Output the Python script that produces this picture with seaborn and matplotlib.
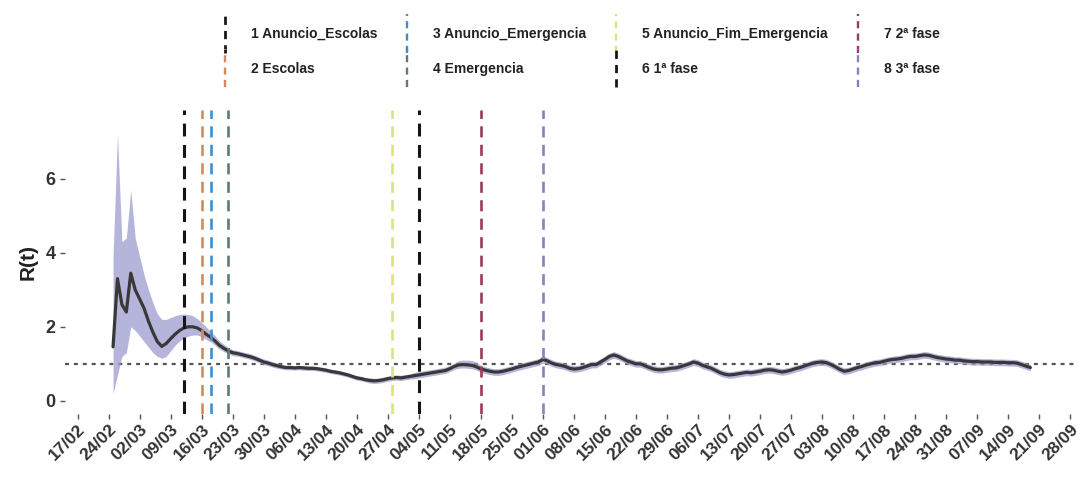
import matplotlib
matplotlib.use("Agg")
import matplotlib.pyplot as plt
from matplotlib.legend_handler import HandlerBase
from matplotlib.lines import Line2D
import pandas as pd
import seaborn as sns

# Daily R(t) estimate with its credible interval, from 25/02/2020
first_day = "2020-02-25"
r_mean = [
    1.46, 3.30, 2.60, 2.40, 3.45, 3.00, 2.75, 2.50, 2.15, 1.85,
    1.60, 1.47, 1.55, 1.68, 1.80, 1.90, 1.97, 2.00, 2.00, 1.97,
    1.90, 1.80, 1.72, 1.62, 1.50, 1.42, 1.35, 1.30,
    1.28, 1.25, 1.22, 1.19, 1.15, 1.10, 1.05, 1.02, 0.98, 0.95,
    0.92, 0.90, 0.90, 0.89, 0.90, 0.89, 0.88, 0.88, 0.87, 0.85,
    0.83, 0.80, 0.78, 0.76, 0.73, 0.70, 0.66, 0.62, 0.60, 0.57,
    0.55, 0.54, 0.55, 0.57, 0.60, 0.62, 0.63, 0.62, 0.64, 0.66,
    0.68, 0.70, 0.72, 0.74, 0.76, 0.78, 0.80, 0.82, 0.87, 0.93,
    0.97, 0.98, 0.97, 0.96, 0.92, 0.86, 0.83, 0.80, 0.78, 0.78,
    0.80, 0.83, 0.86, 0.90, 0.93, 0.96, 0.99, 1.02, 1.05, 1.12,
    1.08, 1.02, 0.98, 0.96, 0.93, 0.88, 0.86, 0.87, 0.90, 0.94,
    0.98, 0.98, 1.05, 1.12, 1.20, 1.24, 1.20, 1.14, 1.08, 1.04,
    1.00, 1.00, 0.95, 0.90, 0.86, 0.84, 0.84, 0.86, 0.88, 0.89,
    0.92, 0.96, 1.00, 1.05, 1.02, 0.96, 0.92, 0.88, 0.82, 0.76,
    0.72, 0.70, 0.71, 0.73, 0.75, 0.77, 0.76, 0.78, 0.80, 0.83,
    0.84, 0.83, 0.80, 0.78, 0.80, 0.83, 0.87, 0.90, 0.94, 0.98,
    1.02, 1.04, 1.05, 1.03, 0.98, 0.92, 0.85, 0.80, 0.82, 0.86,
    0.90, 0.93, 0.97, 1.00, 1.03, 1.04, 1.07, 1.10, 1.12, 1.13,
    1.15, 1.18, 1.20, 1.20, 1.22, 1.24, 1.23, 1.20, 1.17, 1.15,
    1.13, 1.12, 1.10, 1.10, 1.08, 1.07, 1.06, 1.06, 1.05, 1.05,
    1.05, 1.04, 1.04, 1.04, 1.03, 1.03, 1.02, 0.98, 0.94, 0.90,
]
r_lower = [
    0.20, 0.70, 1.20, 1.30, 2.00, 1.90, 1.75, 1.60, 1.45, 1.30,
    1.20, 1.15, 1.20, 1.35, 1.50, 1.62, 1.70, 1.75, 1.78, 1.78,
    1.73, 1.66, 1.60, 1.50, 1.40, 1.33, 1.27, 1.22,
    1.21, 1.18, 1.15, 1.12, 1.08, 1.03, 0.98, 0.95, 0.91, 0.88,
    0.86, 0.84, 0.84, 0.83, 0.84, 0.83, 0.82, 0.82, 0.81, 0.79,
    0.77, 0.74, 0.72, 0.70, 0.67, 0.64, 0.60, 0.56, 0.54, 0.51,
    0.48, 0.47, 0.48, 0.50, 0.53, 0.55, 0.56, 0.55, 0.57, 0.59,
    0.60, 0.62, 0.64, 0.66, 0.68, 0.70, 0.72, 0.74, 0.79, 0.85,
    0.88, 0.89, 0.88, 0.87, 0.83, 0.77, 0.74, 0.71, 0.69, 0.69,
    0.71, 0.74, 0.77, 0.81, 0.84, 0.87, 0.90, 0.93, 0.96, 1.02,
    0.99, 0.93, 0.89, 0.87, 0.84, 0.79, 0.77, 0.78, 0.81, 0.85,
    0.89, 0.89, 0.96, 1.03, 1.11, 1.15, 1.11, 1.05, 0.99, 0.95,
    0.91, 0.91, 0.86, 0.81, 0.77, 0.75, 0.75, 0.77, 0.79, 0.80,
    0.83, 0.87, 0.91, 0.96, 0.93, 0.87, 0.83, 0.79, 0.73, 0.67,
    0.63, 0.61, 0.62, 0.64, 0.66, 0.68, 0.67, 0.69, 0.71, 0.74,
    0.75, 0.74, 0.71, 0.69, 0.71, 0.74, 0.78, 0.81, 0.85, 0.89,
    0.93, 0.95, 0.96, 0.94, 0.89, 0.83, 0.76, 0.71, 0.73, 0.77,
    0.81, 0.84, 0.88, 0.91, 0.94, 0.95, 0.98, 1.01, 1.03, 1.04,
    1.06, 1.09, 1.11, 1.11, 1.13, 1.15, 1.14, 1.11, 1.08, 1.06,
    1.04, 1.03, 1.01, 1.01, 0.99, 0.98, 0.97, 0.97, 0.96, 0.96,
    0.96, 0.95, 0.95, 0.95, 0.94, 0.94, 0.93, 0.89, 0.85, 0.81,
]
r_upper = [
    3.90, 7.20, 4.30, 4.40, 5.70, 4.40, 3.90, 3.40, 3.00, 2.65,
    2.35, 2.20, 2.20, 2.25, 2.30, 2.33, 2.35, 2.33, 2.30, 2.22,
    2.12, 2.00, 1.88, 1.76, 1.62, 1.53, 1.44, 1.38,
    1.36, 1.33, 1.30, 1.27, 1.23, 1.18, 1.13, 1.10, 1.06, 1.03,
    0.98, 0.96, 0.96, 0.95, 0.96, 0.95, 0.94, 0.94, 0.93, 0.91,
    0.89, 0.86, 0.84, 0.82, 0.79, 0.76, 0.72, 0.68, 0.66, 0.63,
    0.62, 0.61, 0.62, 0.64, 0.67, 0.69, 0.70, 0.69, 0.71, 0.73,
    0.77, 0.79, 0.81, 0.83, 0.85, 0.87, 0.89, 0.91, 0.96, 1.02,
    1.09, 1.10, 1.10, 1.09, 1.04, 0.96, 0.92, 0.89, 0.87, 0.87,
    0.89, 0.92, 0.95, 0.99, 1.02, 1.05, 1.08, 1.11, 1.14, 1.22,
    1.17, 1.11, 1.07, 1.05, 1.02, 0.97, 0.95, 0.96, 0.99, 1.03,
    1.07, 1.07, 1.14, 1.21, 1.29, 1.33, 1.29, 1.23, 1.17, 1.13,
    1.09, 1.09, 1.04, 0.99, 0.95, 0.93, 0.93, 0.95, 0.97, 0.98,
    1.01, 1.05, 1.09, 1.14, 1.11, 1.05, 1.01, 0.97, 0.91, 0.85,
    0.81, 0.79, 0.80, 0.82, 0.84, 0.86, 0.85, 0.87, 0.89, 0.92,
    0.93, 0.92, 0.89, 0.87, 0.89, 0.92, 0.96, 0.99, 1.03, 1.07,
    1.11, 1.13, 1.14, 1.12, 1.07, 1.01, 0.94, 0.89, 0.91, 0.95,
    0.99, 1.02, 1.06, 1.09, 1.12, 1.13, 1.16, 1.19, 1.21, 1.22,
    1.24, 1.27, 1.29, 1.29, 1.31, 1.33, 1.32, 1.29, 1.26, 1.24,
    1.22, 1.21, 1.19, 1.19, 1.17, 1.16, 1.15, 1.15, 1.14, 1.14,
    1.14, 1.13, 1.13, 1.13, 1.12, 1.12, 1.11, 1.07, 1.03, 0.99,
]

# Policy events marked with vertical lines
event_labels = [
    "1 Anuncio_Escolas", "2 Escolas", "3 Anuncio_Emergencia", "4 Emergencia",
    "5 Anuncio_Fim_Emergencia", "6 1ª fase", "7 2ª fase", "8 3ª fase",
]
event_dates = [
    "2020-03-12", "2020-03-16", "2020-03-18", "2020-03-22",
    "2020-04-28", "2020-05-04", "2020-05-18", "2020-06-01",
]
event_colors = [
    "#151515", "#d48a5c", "#3f8fce", "#5c7d76",
    "#dde27e", "#151515", "#9c3a5a", "#8a82b8",
]

# Weekly axis ticks
tick_start = "2020-02-17"
tick_end = "2020-09-28"
threshold = 1.0

dates = pd.date_range(first_day, periods=len(r_mean), freq="D")
df = pd.DataFrame({"data": dates, "R": r_mean, "lo": r_lower, "hi": r_upper})

sns.set_style("white")
plt.rcParams["font.family"] = ["Liberation Sans", "DejaVu Sans"]

fig = plt.figure(figsize=(10.79, 4.84), dpi=100)
ax = fig.add_axes([0.060, 0.145, 0.936, 0.628])

ax.fill_between(df["data"], df["lo"], df["hi"], color="#9d9dcf", alpha=0.75,
                linewidth=0, zorder=2)
sns.lineplot(data=df, x="data", y="R", ax=ax, color="#383838", linewidth=2.3,
             zorder=3)

ax.axhline(threshold, color="#555555", linewidth=1.6, linestyle=(0, (1.8, 2.2)),
           zorder=1)

handles = []
for lab, d, c in zip(event_labels, event_dates, event_colors):
    lw = 2.2 if c == "#151515" else 1.9
    h = ax.axvline(pd.Timestamp(d), color=c, linewidth=lw,
                   linestyle=(0, (4.2, 2.8)), zorder=4, label=lab)
    handles.append(h)


class VerticalKey(HandlerBase):
    """Legend key drawn as a short vertical dashed segment."""

    def create_artists(self, legend, orig_handle, xdescent, ydescent, width,
                       height, fontsize, trans):
        x = width / 2 - xdescent
        seg = Line2D([x, x], [-ydescent - 1.5 * height, -ydescent + 2.5 * height],
                     color=orig_handle.get_color(),
                     linewidth=orig_handle.get_linewidth() * 0.9,
                     linestyle=(0, (3.0, 2.2)))
        seg.set_transform(trans)
        return [seg]


leg = fig.legend(handles=handles, labels=event_labels, ncol=4,
                 loc="upper left", bbox_to_anchor=(0.1905, 0.970),
                 frameon=False, handler_map={Line2D: VerticalKey()},
                 handlelength=1.0, handleheight=0.7, handletextpad=1.37,
                 columnspacing=1.65, labelspacing=1.5,
                 prop={"size": 10, "weight": "bold"})
for t in leg.get_texts():
    t.set_color("#222222")

# Axes styling
ax.set_ylim(-0.35, 7.86)
ax.set_xlim(pd.Timestamp(tick_start) - pd.Timedelta(days=2.9),
            pd.Timestamp(tick_start) + pd.Timedelta(days=225))
ax.set_yticks([0, 2, 4, 6])
ticks = pd.date_range(tick_start, tick_end, freq="7D")
ax.set_xticks(ticks)
ax.set_xticklabels([t.strftime("%d/%m") for t in ticks], rotation=45,
                   ha="right", rotation_mode="anchor", fontsize=12.5,
                   fontweight="bold", color="#333333")
for lbl in ax.get_yticklabels():
    lbl.set_fontsize(13)
    lbl.set_fontweight("bold")
    lbl.set_color("#333333")
ax.tick_params(axis="both", which="both", length=3.5, width=1.0,
               color="#555555", direction="out", bottom=True, left=True)
ax.tick_params(axis="x", pad=2)
ax.tick_params(axis="y", pad=3)
for s in ax.spines.values():
    s.set_visible(False)
ax.set_xlabel("")
ax.set_ylabel("R(t)", fontsize=15, fontweight="bold", color="#222222",
              labelpad=6)
ax.grid(False)

fig.savefig("out.png", dpi=100, facecolor="white")
